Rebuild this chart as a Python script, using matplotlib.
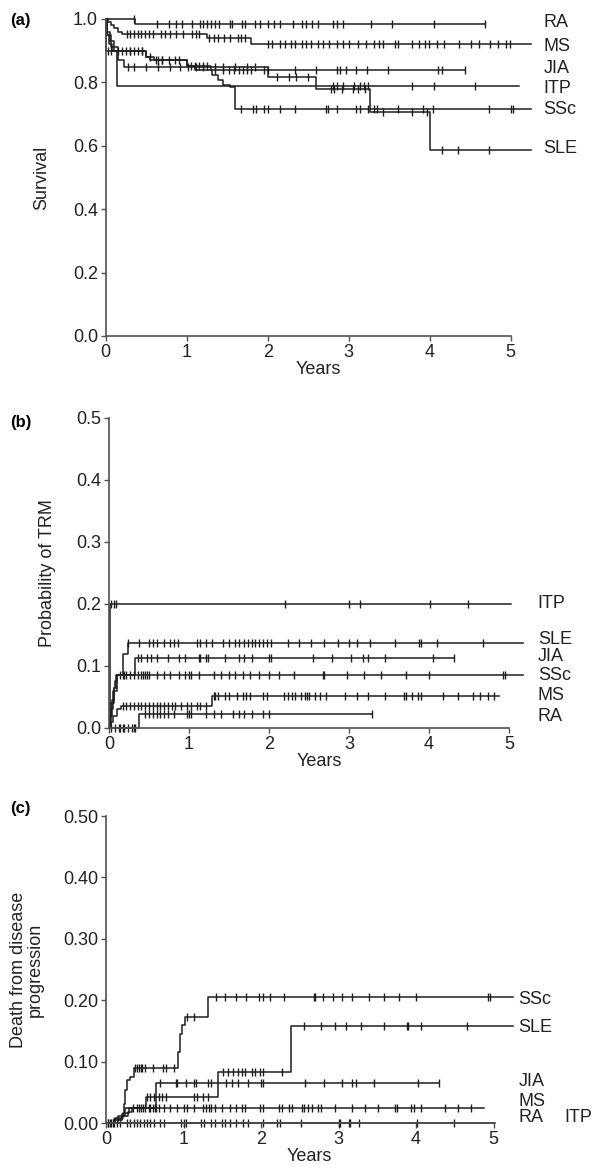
import numpy as np
import matplotlib
matplotlib.use("Agg")
import matplotlib.pyplot as plt

plt.rcParams["font.family"] = ["Liberation Sans", "DejaVu Sans"]

GROUPS = ["RA", "MS", "JIA", "ITP", "SSc", "SLE"]

# ---- (a) overall survival: step times, step values, last follow-up, censored times
a_t = {
    "RA": [0, 0.36],
    "MS": [0, 0.03, 0.06, 0.1, 0.15, 0.2, 1.25, 1.8],
    "JIA": [0, 0.02, 0.05, 0.1, 0.5, 0.6, 1.0, 1.3],
    "ITP": [0, 0.005, 0.14],
    "SSc": [0, 0.02, 0.04, 0.08, 0.5, 0.55, 1.0, 1.1, 1.31, 1.39, 1.45, 1.53, 1.6],
    "SLE": [0, 0.02, 0.06, 0.15, 0.22, 2.0, 2.6, 3.27, 4.01],
}
a_v = {
    "RA": [1.0, 0.984],
    "MS": [1.0, 0.99, 0.98, 0.97, 0.96, 0.951, 0.94, 0.922],
    "JIA": [1.0, 0.96, 0.93, 0.90, 0.88, 0.87, 0.85, 0.838],
    "ITP": [1.0, 0.90, 0.787],
    "SSc": [1.0, 0.95, 0.92, 0.90, 0.88, 0.87, 0.85, 0.84, 0.822, 0.806, 0.79, 0.785, 0.715],
    "SLE": [1.0, 0.95, 0.91, 0.87, 0.848, 0.817, 0.778, 0.705, 0.588],
}
a_end = {"RA": 4.68, "MS": 5.25, "JIA": 4.44, "ITP": 5.1, "SSc": 5.25, "SLE": 5.25}
a_cens = {
    "RA": [0.35, 0.63, 0.78, 0.87, 0.94, 1.06, 1.16, 1.2, 1.25, 1.3, 1.35, 1.4, 1.53,
           1.56, 1.68, 1.72, 1.84, 1.91, 2.0, 2.08, 2.15, 2.31, 2.43, 2.48, 2.55, 2.62,
           2.81, 2.86, 2.93, 3.28, 3.54, 4.06, 4.68],
    "MS": [0.26, 0.3, 0.35, 0.4, 0.44, 0.49, 0.54, 0.59, 0.68, 0.73, 0.8, 0.87, 0.96,
           1.06, 1.11, 1.15, 1.27, 1.34, 1.39, 1.46, 1.53, 1.63, 1.67, 1.72, 2.01, 2.05,
           2.15, 2.22, 2.29, 2.34, 2.43, 2.48, 2.53, 2.62, 2.69, 2.76, 2.86, 2.93, 3.0,
           3.12, 3.21, 3.31, 3.38, 3.42, 3.57, 3.61, 3.78, 3.87, 3.95, 3.99, 4.09, 4.18,
           4.37, 4.51, 4.61, 4.75, 4.84, 4.94, 4.99],
    "JIA": [0.3, 0.45, 0.55, 0.65, 0.7, 0.78, 0.85, 0.9, 1.05, 1.1, 1.15, 1.2, 1.25,
            1.35, 1.45, 1.52, 1.58, 1.65, 1.7, 1.75, 1.8, 1.95, 2.0, 2.34, 2.6, 2.86,
            2.9, 2.97, 3.09, 3.23, 3.49, 4.1, 4.15, 4.44],
    "ITP": [0.03, 0.06, 2.81, 2.86, 2.93, 3.07, 3.14, 3.19, 3.24, 3.78, 4.06, 4.56],
    "SSc": [0.15, 0.2, 0.25, 0.3, 0.35, 0.4, 0.45, 0.62, 0.7, 1.67, 1.82, 1.86, 1.96,
            2.01, 2.15, 2.34, 2.72, 2.74, 2.86, 3.09, 3.14, 3.24, 3.31, 3.35, 3.61,
            3.92, 4.04, 4.73, 5.01, 5.03],
    "SLE": [0.28, 0.35, 0.5, 0.65, 0.8, 0.92, 1.02, 1.12, 1.2, 1.35, 1.45, 1.6, 1.75,
            1.85, 2.12, 2.27, 2.35, 2.5, 2.78, 2.82, 2.92, 3.05, 3.12, 3.2, 3.42, 3.78,
            3.97, 4.16, 4.35, 4.73],
}

# ---- (b) probability of transplant-related mortality
b_t = {
    "RA": [0, 0.38],
    "MS": [0, 0.02, 0.05, 0.1, 0.15, 1.29],
    "JIA": [0, 0.02, 0.05, 0.1, 0.33],
    "ITP": [0, 0.01],
    "SSc": [0, 0.01, 0.04, 0.06, 0.08, 0.1],
    "SLE": [0, 0.01, 0.03, 0.06, 0.09, 0.17, 0.24],
}
b_v = {
    "RA": [0, 0.023],
    "MS": [0, 0.01, 0.02, 0.03, 0.035, 0.052],
    "JIA": [0, 0.03, 0.06, 0.085, 0.113],
    "ITP": [0, 0.2],
    "SSc": [0, 0.02, 0.045, 0.065, 0.075, 0.086],
    "SLE": [0, 0.02, 0.04, 0.065, 0.085, 0.12, 0.137],
}
b_end = {"RA": 3.29, "MS": 4.88, "JIA": 4.31, "ITP": 5.02, "SSc": 5.17, "SLE": 5.17}
b_cens = {
    "RA": [0.02, 0.07, 0.12, 0.14, 0.17, 0.19, 0.24, 0.29, 0.31, 0.33, 0.45, 0.5,
           0.55, 0.6, 0.64, 0.69, 0.74, 0.81, 0.98, 1.0, 1.02, 1.21, 1.31, 1.4, 1.55,
           1.62, 1.69, 1.79, 1.93, 2.0, 3.29],
    "MS": [0.17, 0.21, 0.26, 0.31, 0.36, 0.4, 0.45, 0.5, 0.55, 0.6, 0.64, 0.69, 0.74,
           0.79, 0.83, 0.9, 0.98, 1.02, 1.1, 1.14, 1.21, 1.31, 1.33, 1.36, 1.45, 1.5,
           1.6, 1.67, 1.71, 1.76, 1.93, 1.98, 2.19, 2.24, 2.29, 2.33, 2.4, 2.45, 2.48,
           2.5, 2.57, 2.64, 2.71, 2.95, 3.1, 3.24, 3.45, 3.69, 3.71, 3.79, 3.86, 3.9,
           4.17, 4.36, 4.55, 4.64, 4.74, 4.81],
    "JIA": [0.36, 0.4, 0.48, 0.52, 0.6, 0.74, 0.88, 0.95, 1.12, 1.14, 1.21, 1.24,
            1.45, 1.62, 1.69, 1.79, 2.0, 2.02, 2.55, 2.79, 3.02, 3.17, 3.24, 3.45, 4.05,
            4.31],
    "ITP": [0.02, 0.06, 0.09, 2.2, 3.0, 3.14, 4.01, 4.49],
    "SSc": [0.14, 0.17, 0.19, 0.21, 0.26, 0.31, 0.36, 0.4, 0.43, 0.45, 0.48, 0.5, 0.6,
            0.69, 0.76, 0.88, 0.95, 1.0, 1.02, 1.12, 1.31, 1.4, 1.5, 1.57, 1.67, 1.76,
            1.88, 2.0, 2.12, 2.31, 2.67, 2.69, 2.98, 3.19, 3.4, 3.71, 4.0, 4.93, 4.95],
    "SLE": [0.24, 0.38, 0.5, 0.55, 0.6, 0.69, 0.76, 0.81, 0.86, 1.1, 1.14, 1.21, 1.29,
            1.43, 1.5, 1.57, 1.62, 1.69, 1.74, 1.79, 1.83, 1.88, 1.93, 1.98, 2.02, 2.24,
            2.38, 2.52, 2.69, 2.86, 3.0, 3.1, 3.26, 3.57, 3.88, 3.9, 4.1, 4.67],
}

# ---- (c) death from disease progression
c_t = {
    "RA": [0],
    "MS": [0, 0.1, 0.2, 0.28, 0.33],
    "JIA": [0, 0.15, 0.25, 0.65],
    "ITP": [0],
    "SSc": [0, 0.1, 0.2, 0.23, 0.25, 0.27, 0.31, 0.36, 0.93, 0.96, 0.98, 1.02, 1.32],
    "SLE": [0, 0.12, 0.22, 0.3, 0.51, 1.44, 2.39],
}
c_v = {
    "RA": [0],
    "MS": [0, 0.006, 0.012, 0.018, 0.024],
    "JIA": [0, 0.012, 0.024, 0.066],
    "ITP": [0],
    "SSc": [0, 0.005, 0.015, 0.031, 0.053, 0.07, 0.075, 0.09, 0.115, 0.145, 0.16,
            0.172, 0.205],
    "SLE": [0, 0.008, 0.016, 0.024, 0.042, 0.083, 0.158],
}
c_end = {"RA": 3.29, "MS": 4.88, "JIA": 4.29, "ITP": 5.02, "SSc": 5.25, "SLE": 5.25}
c_cens = {
    "RA": [0.03, 0.05, 0.1, 0.14, 0.18, 0.27, 0.31, 0.36, 0.4, 0.44, 0.49, 0.53, 0.57,
           0.62, 0.7, 0.75, 0.97, 1.01, 1.03, 1.23, 1.27, 1.36, 1.4, 1.49, 1.53, 1.6,
           1.68, 1.77, 1.83, 2.03, 2.25, 2.51, 3.02, 3.15, 3.27],
    "MS": [0.35, 0.4, 0.43, 0.45, 0.48, 0.5, 0.55, 0.57, 0.6, 0.63, 0.65, 0.68, 0.75,
           0.83, 0.92, 1.01, 1.05, 1.14, 1.25, 1.29, 1.33, 1.36, 1.4, 1.49, 1.6, 1.68,
           1.75, 1.79, 1.99, 2.03, 2.23, 2.27, 2.36, 2.4, 2.53, 2.55, 2.6, 2.66, 2.73,
           2.77, 2.95, 3.17, 3.34, 3.51, 3.73, 3.75, 3.93, 3.98, 4.07, 4.37, 4.54, 4.71],
    "JIA": [0.7, 0.9, 0.92, 1.03, 1.14, 1.16, 1.31, 1.35, 1.55, 1.62, 1.7, 1.83, 2.0,
            2.03, 2.57, 2.81, 3.05, 3.17, 3.22, 3.46, 4.02, 4.29],
    "ITP": [0.02, 0.06, 0.09, 2.2, 3.0, 3.14, 4.01, 4.49],
    "SSc": [0.38, 0.4, 0.42, 0.45, 0.47, 0.5, 0.6, 0.73, 0.77, 0.88, 1.04, 1.13, 1.42,
            1.54, 1.68, 1.8, 1.98, 2.02, 2.12, 2.29, 2.68, 2.7, 2.8, 2.93, 3.05, 3.17,
            3.39, 3.59, 3.78, 4.0, 4.93, 4.95],
    "SLE": [0.53, 0.57, 0.62, 0.68, 0.72, 0.77, 1.14, 1.18, 1.25, 1.31, 1.51, 1.57,
            1.64, 1.7, 1.75, 1.79, 1.88, 1.92, 1.99, 2.03, 2.27, 2.56, 2.78, 2.95, 3.1,
            3.29, 3.59, 3.88, 3.9, 4.07, 4.66],
}

LINE = "#1e1e1e"
AXC = "#505050"
FS = 13


def km_curve(ax, t, v, end, cens):
    tt = list(t) + [end]
    vv = list(v) + [v[-1]]
    ax.step(tt, vv, where="post", color=LINE, lw=1.1, clip_on=False)
    c = np.asarray(cens)
    idx = np.searchsorted(np.asarray(t), c, side="right") - 1
    ax.plot(c, np.asarray(v)[idx], ls="none", marker="|", ms=6, mew=1.0,
            color=LINE, clip_on=False)


def style_axes(ax, ymax, ystep, fmt):
    ax.set_xlim(0, 5.25)
    ax.set_ylim(0, ymax)
    for s in ("top", "right"):
        ax.spines[s].set_visible(False)
    for s in ("left", "bottom"):
        ax.spines[s].set_color(AXC)
        ax.spines[s].set_linewidth(1.2)
    ax.spines["bottom"].set_bounds(0, 5)
    ax.set_xticks(range(6))
    yt = np.arange(0, ymax + 1e-9, ystep)
    ax.set_yticks(yt)
    ax.set_yticklabels([fmt % y for y in yt])
    ax.tick_params(direction="out", length=3.5, width=1, color=AXC,
                   labelsize=FS, labelcolor="#222222", pad=2)
    ax.set_xlabel("Years", fontsize=FS, color="#222222", labelpad=0)


fig = plt.figure(figsize=(5.94, 11.73), dpi=100)
ax_a = fig.add_axes([0.178, 0.7136, 0.7155, 0.2703])
ax_b = fig.add_axes([0.1835, 0.3794, 0.707, 0.2643])
ax_c = fig.add_axes([0.1785, 0.0426, 0.685, 0.2617])

for g in GROUPS:
    km_curve(ax_a, a_t[g], a_v[g], a_end[g], a_cens[g])
    km_curve(ax_b, b_t[g], b_v[g], b_end[g], b_cens[g])
    km_curve(ax_c, c_t[g], c_v[g], c_end[g], c_cens[g])

style_axes(ax_a, 1.0, 0.2, "%.1f")
style_axes(ax_b, 0.5, 0.1, "%.1f")
style_axes(ax_c, 0.5, 0.1, "%.2f")

lab_kw = dict(fontsize=FS, color="#222222", va="center", ha="left", clip_on=False)
a_lab_y = {"RA": 0.99, "MS": 0.913, "JIA": 0.842, "ITP": 0.782, "SSc": 0.713, "SLE": 0.59}
for g, y in a_lab_y.items():
    ax_a.text(5.41, y, g, **lab_kw)
b_lab_y = {"ITP": 0.2, "SLE": 0.142, "JIA": 0.115, "SSc": 0.084, "MS": 0.052, "RA": 0.019}
for g, y in b_lab_y.items():
    ax_b.text(5.36, y, g, **lab_kw)
c_lab_y = {"SSc": 0.202, "SLE": 0.156, "JIA": 0.068, "MS": 0.035, "RA": 0.009}
for g, y in c_lab_y.items():
    ax_c.text(5.32, y, g, **lab_kw)
ax_c.text(5.92, 0.009, "ITP", **lab_kw)

ax_a.text(-0.15, 0.5, "Survival", transform=ax_a.transAxes, rotation=90,
          ha="center", va="center", fontsize=FS, color="#222222")
ax_b.text(-0.147, 0.5, "Probability of TRM", transform=ax_b.transAxes, rotation=90,
          ha="center", va="center", fontsize=FS, color="#222222")
ax_c.text(-0.195, 0.5, "Death from disease\nprogression", transform=ax_c.transAxes,
          rotation=90, ha="center", va="center", fontsize=FS, color="#222222",
          linespacing=0.95)

for lab, y in (("(a)", 20), ("(b)", 422), ("(c)", 808)):
    fig.text(10 / 594, 1 - y / 1173, lab, fontsize=12, fontweight="bold",
             ha="left", va="center")

fig.savefig("out.png", dpi=100)
